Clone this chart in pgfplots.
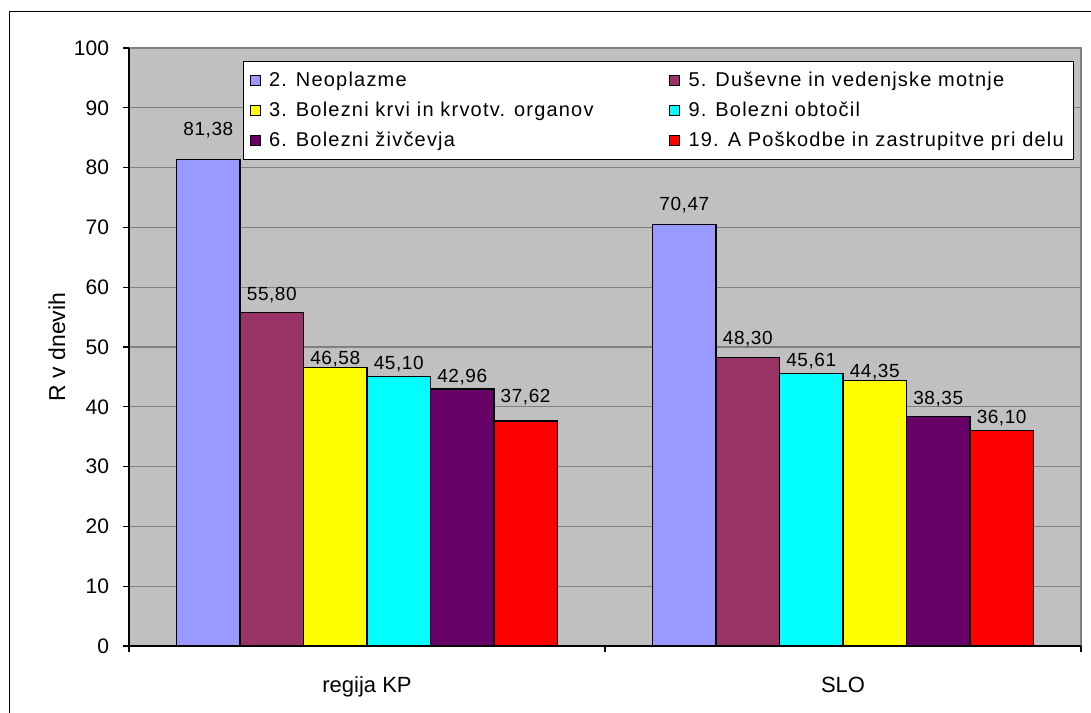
\documentclass[border=0pt]{standalone}
\usepackage{pgfplots}
\pgfplotsset{compat=1.18}
\usepackage{fontspec}
\setmainfont{Liberation Sans}
\newfontfamily\legfont{Liberation Sans}[LetterSpace=6]
\newfontfamily\lblfont{Liberation Sans}[LetterSpace=3]
\definecolor{cNeo}{HTML}{9999FF}
\definecolor{cDus}{HTML}{993366}
\definecolor{cKrv}{HTML}{FFFF00}
\definecolor{cObt}{HTML}{00FFFF}
\definecolor{cZiv}{HTML}{660066}
\definecolor{cPos}{HTML}{FF0000}
\definecolor{plotbg}{HTML}{C0C0C0}
\definecolor{gridc}{HTML}{808080}

\pgfplotsset{
  mybar/.style={ybar, bar width=0.1333, bar shift=0pt, draw=black, line width=0.6pt,
    legend image code/.code={\draw[##1, draw=black, line width=0.5pt] (0pt,-2.5pt) rectangle (5pt,2.5pt); \path[draw=none, fill=none] (5pt,0pt) -- (7.5pt,0pt);}},
}

\begin{document}
\begin{tikzpicture}
\useasboundingbox (0,0) rectangle (545.5pt,356pt);
\draw[black, line width=0.6pt] (4.9pt,-5pt) -- (4.9pt,350.1pt) -- (560pt,350.1pt);
\begin{axis}[
  at={(64.5pt,33pt)}, anchor=south west,
  scale only axis, width=476pt, height=299pt,
  xmin=-0.5, xmax=1.5, ymin=0, ymax=100,
  axis background/.style={fill=plotbg, draw=gridc, line width=0.6pt},
  axis x line*=bottom, axis y line*=left,
  axis line style={black, line width=0.6pt, -},
  tick align=outside, major tick length=3pt,
  tick style={black, line width=0.6pt},
  xtick={-0.5,0.5,1.5}, xticklabels={},
  ytick={0,10,...,100},
  ymajorgrids, grid style={gridc, line width=0.6pt},
  /pgf/number format/assume math mode=true,
  yticklabel style={font=\fontsize{10.5}{12}\selectfont, xshift=-3.5pt},
  extra x ticks={0,1}, extra x tick labels={regija KP,SLO},
  extra x tick style={major tick length=0pt, tick label style={anchor=base, yshift=-23pt, font=\fontsize{11}{13}\selectfont}},
  every axis y label/.style={at={(axis description cs:-0.067,0.5)}, rotate=90, anchor=base, font=\fontsize{11.5}{13}\selectfont},
  ylabel={R v dnevih},
  nodes near coords, point meta=explicit symbolic,
  visualization depends on={\thisrow{off} \as \off},
  every node near coord/.append style={anchor=base, yshift=\off*1pt, font=\lblfont\fontsize{9.5}{11}\selectfont, text=black, inner sep=0pt},
  legend columns=2, legend cell align=left,
  legend style={at={(0.1197,0.978)}, anchor=north west, draw=black, fill=white, line width=0.6pt,
    font=\legfont\fontsize{10}{12}\selectfont, row sep=2.25pt, inner xsep=3pt, inner ysep=3pt},
]
\addplot[mybar, fill=cNeo] table[x=x, y=y, meta=lbl]{
x y lbl off
-0.3333 81.38 81,38 11.85
0.6667 70.47 70,47 7.0
};
\addlegendentry{\makebox[198pt][l]{2. Neoplazme}}
\addplot[mybar, fill=cDus] table[x=x, y=y, meta=lbl]{
x y lbl off
-0.2 55.80 55,80 6.15
0.8 48.30 48,30 6.35
};
\addlegendentry{5. Duševne in vedenjske motnje}
\addplot[mybar, fill=cKrv] table[x=x, y=y, meta=lbl]{
x y lbl off
-0.0667 46.58 46,58 1.5
1.0667 44.35 44,35 1.85
};
\addlegendentry{\makebox[198pt][l]{3. Bolezni krvi in krvotv. organov}}
\addplot[mybar, fill=cObt] table[x=x, y=y, meta=lbl]{
x y lbl off
0.0667 45.10 45,10 3.5
0.9333 45.61 45,61 3.5
};
\addlegendentry{9. Bolezni obtočil}
\addplot[mybar, fill=cZiv] table[x=x, y=y, meta=lbl]{
x y lbl off
0.2 42.96 42,96 3.15
1.2 38.35 38,35 6.15
};
\addlegendentry{\makebox[198pt][l]{6. Bolezni živčevja}}
\addplot[mybar, fill=cPos] table[x=x, y=y, meta=lbl]{
x y lbl off
0.3333 37.62 37,62 9.1
1.3333 36.10 36,10 3.5
};
\addlegendentry{19. A Poškodbe in zastrupitve pri delu}
\end{axis}
\end{tikzpicture}
\end{document}
